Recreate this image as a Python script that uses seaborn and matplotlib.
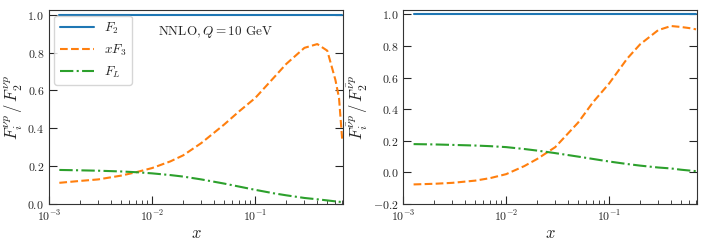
import numpy as np
import pandas as pd
import matplotlib
matplotlib.use("Agg")
import matplotlib.pyplot as plt
import seaborn as sns

# dados
x = [1.26e-3, 2e-3, 3e-3, 5e-3, 7e-3, 1e-2, 1.5e-2, 2e-2, 3e-2, 5e-2, 7e-2,
     0.1, 0.15, 0.2, 0.3, 0.4, 0.5, 0.6, 0.65, 0.7]

f2_nu = [1.0] * len(x)
xf3_nu = [0.112, 0.122, 0.13, 0.15, 0.168, 0.19, 0.225, 0.257, 0.322, 0.42, 0.49,
          0.56, 0.665, 0.74, 0.825, 0.845, 0.81, 0.655, 0.56, 0.33]
fl_nu = [0.18, 0.178, 0.176, 0.172, 0.168, 0.162, 0.153, 0.145, 0.13, 0.108, 0.092,
         0.075, 0.057, 0.046, 0.032, 0.025, 0.019, 0.014, 0.012, 0.01]

f2_nubar = [1.0] * len(x)
xf3_nubar = [-0.076, -0.072, -0.066, -0.052, -0.036, -0.011, 0.04, 0.085, 0.16, 0.315, 0.445,
             0.562, 0.72, 0.81, 0.90, 0.926, 0.92, 0.913, 0.909, 0.905]
fl_nubar = [0.179, 0.177, 0.174, 0.17, 0.166, 0.16, 0.148, 0.138, 0.122, 0.1, 0.085,
            0.069, 0.053, 0.043, 0.031, 0.025, 0.017, 0.012, 0.01, 0.008]

labels = [r"$F_2$", r"$xF_3$", r"$F_L$"]
estilos = ["-", "--", "-."]
cores = ["C0", "C1", "C2"]

sns.set_style("ticks")
plt.rcParams["font.family"] = "serif"
plt.rcParams["font.serif"] = ["cmr10"]
plt.rcParams["mathtext.fontset"] = "cm"
plt.rcParams["axes.formatter.use_mathtext"] = True
plt.rcParams["axes.unicode_minus"] = True

fig = plt.figure(figsize=(7.06, 2.47), dpi=100)
ax1 = fig.add_axes([0.0694, 0.174, 0.4164, 0.784])
ax2 = fig.add_axes([0.5712, 0.174, 0.4156, 0.784])

df_nu = pd.DataFrame({"x": x, "F2": f2_nu, "xF3": xf3_nu, "FL": fl_nu})
df_nubar = pd.DataFrame({"x": x, "F2": f2_nubar, "xF3": xf3_nubar, "FL": fl_nubar})

for ax, df in [(ax1, df_nu), (ax2, df_nubar)]:
    for col, lab, ls, c in zip(["F2", "xF3", "FL"], labels, estilos, cores):
        sns.lineplot(data=df, x="x", y=col, ax=ax, label=lab, color=c,
                     linestyle=ls, linewidth=1.5)
    ax.set_xscale("log")
    ax.set_xlim(1e-3, 0.71)
    ax.set_xlabel(r"$x$", fontsize=12, labelpad=1)
    ax.tick_params(which="both", direction="in", left=True, right=True,
                   top=False, bottom=True, labelsize=8.5)
    ax.tick_params(which="major", length=5.5)
    ax.tick_params(which="minor", length=3)
    for s in ax.spines.values():
        s.set_color("#333333")

ax1.set_ylim(0, 1.023)
ax1.set_yticks([0, 0.2, 0.4, 0.6, 0.8, 1.0])
ax1.set_ylabel(r"$F_i^{\nu p}\,/\,F_2^{\nu p}$", fontsize=12, labelpad=2)
ax1.text(0.565, 0.888, r"NNLO$, Q = 10$ GeV", transform=ax1.transAxes,
         ha="center", va="center", fontsize=9.5)
ax1.legend(loc="upper left", fontsize=9.5, handlelength=2.6,
           borderaxespad=0.4, frameon=True)

ax2.set_ylim(-0.2, 1.025)
ax2.set_yticks([-0.2, 0, 0.2, 0.4, 0.6, 0.8, 1.0])
ax2.set_ylabel(r"$F_i^{\bar{\nu} p}\,/\,F_2^{\bar{\nu} p}$", fontsize=12, labelpad=2)
ax2.get_legend().remove()

plt.savefig("out.png", dpi=100)
